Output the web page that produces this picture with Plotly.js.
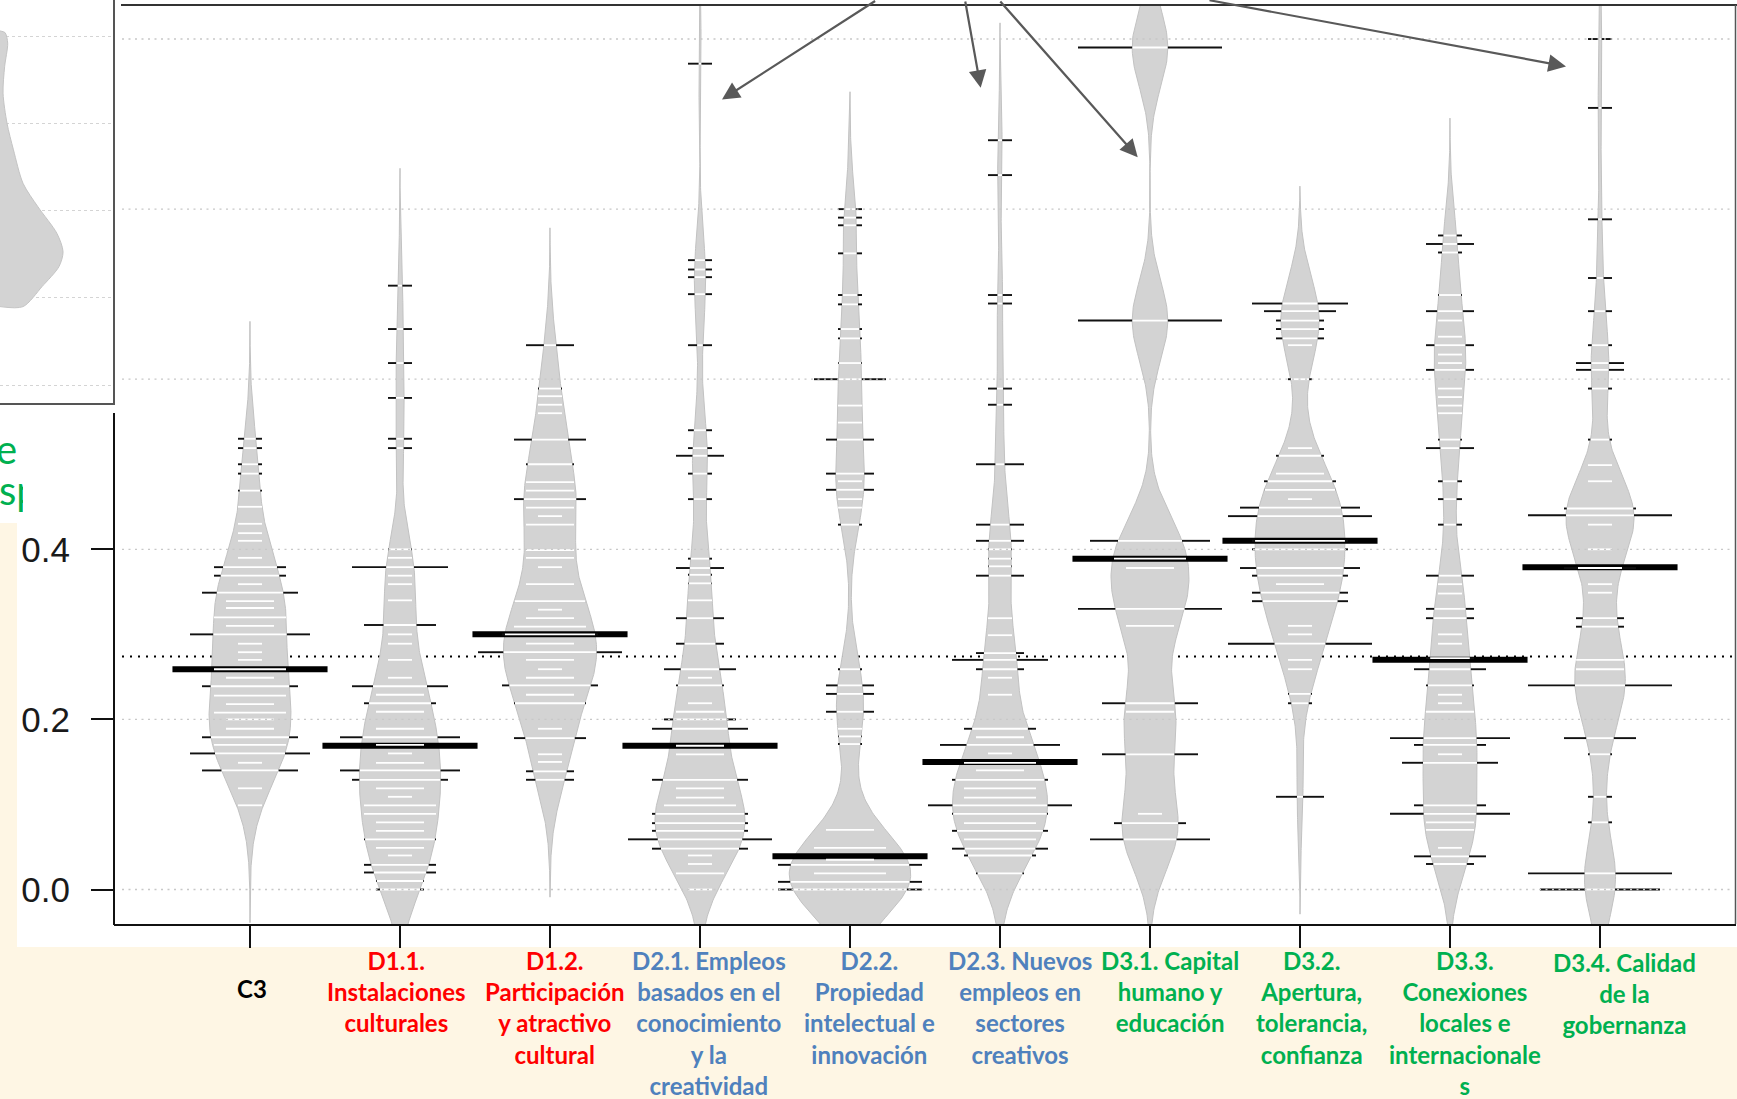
<!DOCTYPE html>
<html>
<head>
<meta charset="utf-8">
<script src="https://cdn.plot.ly/plotly-3.0.1.min.js"></script>
<style>
html,body{margin:0;padding:0;background:#ffffff;}
#chart{width:1737px;height:1099px;}
</style>
</head>
<body>
<div id="chart"></div>
<script>
// ---------------- DATA ----------------
const categories = ['C3','D1.1','D1.2','D2.1','D2.2','D2.3','D3.1','D3.2','D3.3','D3.4'];
const categoryLabels = [
  'C3',
  'D1.1.<br>Instalaciones<br>culturales',
  'D1.2.<br>Participación<br>y atractivo<br>cultural',
  'D2.1. Empleos<br>basados en el<br>conocimiento<br>y la<br>creatividad',
  'D2.2.<br>Propiedad<br>intelectual e<br>innovación',
  'D2.3. Nuevos<br>empleos en<br>sectores<br>creativos',
  'D3.1. Capital<br>humano y<br>educación',
  'D3.2.<br>Apertura,<br>tolerancia,<br>confianza',
  'D3.3.<br>Conexiones<br>locales e<br>internacionale<br>s',
  'D3.4. Calidad<br>de la<br>gobernanza'
];
const labelGroupColor = ['#000000','#FF0000','#FF0000','#4F81BD','#4F81BD','#4F81BD','#00B050','#00B050','#00B050','#00B050'];

// each horizontal bean line: value and number of observations at that value
const c3Values  = [0.530,0.519,0.500,0.489,0.469,0.450,0.430,0.419,0.410,0.390,0.379,0.369,0.359,0.349,0.339,0.331,0.320,0.310,0.300,0.289,0.279,0.270,0.259,0.249,0.239,0.228,0.218,0.208,0.200,0.189,0.179,0.170,0.160,0.149,0.140,0.119,0.099];
const c3Counts  = [1,1,1,1,1,1,1,1,1,1,3,3,1,4,2,2,3,2,5,1,1,1,3,2,4,3,2,3,2,2,4,3,5,1,4,1,1];

const d11Values = [0.710,0.659,0.619,0.578,0.530,0.519,0.400,0.390,0.379,0.369,0.359,0.340,0.311,0.300,0.289,0.270,0.249,0.239,0.229,0.219,0.209,0.189,0.179,0.170,0.160,0.149,0.140,0.129,0.119,0.109,0.099,0.089,0.079,0.069,0.059,0.049,0.040,0.029,0.020,0.010,0.000];
const d11Counts = [1,1,1,1,1,1,1,1,4,1,1,1,3,1,1,1,1,4,2,3,2,2,5,2,1,2,5,4,2,1,3,3,2,2,3,2,1,3,3,2,2];

const d12Values = [0.640,0.589,0.580,0.570,0.560,0.529,0.500,0.479,0.469,0.459,0.449,0.439,0.429,0.399,0.390,0.379,0.359,0.339,0.329,0.319,0.309,0.300,0.289,0.279,0.270,0.259,0.249,0.240,0.229,0.219,0.189,0.178,0.159,0.150,0.139,0.129];
const d12Counts = [2,1,1,1,1,3,2,2,2,3,2,1,2,2,2,1,2,3,1,2,3,4,2,6,2,1,2,4,2,3,1,3,1,1,2,2];

const d21Values = [0.971,0.740,0.729,0.720,0.700,0.640,0.540,0.519,0.510,0.489,0.459,0.389,0.378,0.370,0.360,0.340,0.319,0.289,0.259,0.249,0.240,0.219,0.209,0.200,0.189,0.169,0.159,0.129,0.119,0.108,0.099,0.089,0.078,0.069,0.059,0.048,0.040,0.030,0.019,0.000];
const d21Counts = [1,1,1,1,1,1,1,1,2,1,1,1,2,1,1,1,2,2,3,1,2,1,2,3,4,2,2,4,2,2,3,4,4,4,6,4,1,1,2,1];

const d22Values = [0.800,0.790,0.781,0.748,0.699,0.688,0.659,0.648,0.619,0.600,0.569,0.549,0.529,0.489,0.480,0.470,0.459,0.449,0.429,0.259,0.240,0.230,0.209,0.189,0.180,0.171,0.070,0.049,0.035,0.029,0.019,0.009,0.000];
const d22Counts = [1,1,1,1,1,1,1,1,1,3,1,1,2,2,1,2,1,1,1,1,2,2,2,1,1,1,2,3,2,10,3,10,11];

const d23Values = [0.881,0.840,0.699,0.689,0.589,0.570,0.500,0.429,0.410,0.400,0.389,0.380,0.369,0.319,0.299,0.278,0.270,0.259,0.249,0.229,0.189,0.179,0.170,0.160,0.149,0.140,0.129,0.119,0.108,0.099,0.089,0.078,0.069,0.059,0.048,0.040,0.019];
const d23Counts = [1,1,1,1,1,1,2,2,2,1,1,1,2,1,1,2,4,2,1,1,3,2,5,1,3,2,4,3,3,6,4,3,4,3,4,3,2];

const d31Values = [0.990,0.669,0.410,0.389,0.378,0.330,0.310,0.219,0.209,0.159,0.089,0.078,0.059];
const d31Counts = [6,6,5,3,2,6,2,4,2,4,1,3,5];

const d32Values = [0.689,0.680,0.669,0.659,0.648,0.640,0.600,0.519,0.510,0.489,0.480,0.470,0.459,0.449,0.439,0.410,0.400,0.378,0.369,0.359,0.349,0.339,0.310,0.300,0.289,0.270,0.259,0.230,0.219,0.109];
const d32Counts = [4,3,2,2,2,1,1,1,2,2,3,3,1,5,7,4,4,5,4,2,4,4,1,1,7,1,1,1,1,2];

const d33Values = [0.769,0.759,0.749,0.699,0.680,0.669,0.650,0.640,0.629,0.619,0.611,0.589,0.579,0.569,0.560,0.529,0.519,0.480,0.459,0.429,0.369,0.359,0.348,0.330,0.319,0.300,0.289,0.272,0.259,0.240,0.229,0.219,0.209,0.178,0.170,0.159,0.149,0.099,0.089,0.079,0.070,0.049,0.039,0.030];
const d33Counts = [1,2,1,1,2,1,1,2,1,1,2,1,1,1,1,1,2,1,1,1,2,1,1,2,2,1,1,2,3,2,1,1,2,5,3,1,4,3,5,2,2,1,3,2];

const d34Values = [1.000,0.919,0.788,0.719,0.680,0.640,0.619,0.611,0.589,0.529,0.499,0.480,0.448,0.440,0.429,0.400,0.378,0.359,0.349,0.319,0.309,0.270,0.259,0.240,0.178,0.159,0.109,0.079,0.019,0.000];
const d34Counts = [1,1,1,1,1,1,2,2,1,1,1,1,3,17,1,1,3,1,1,2,2,2,2,12,3,1,1,1,6,5];

const groupMeans = [0.259,0.169,0.300,0.169,0.039,0.150,0.389,0.410,0.270,0.379];
const overallMean = 0.274;
// widest half-width of each bean (in category units)
const beanPeakWidth = [0.273,0.271,0.311,0.300,0.405,0.317,0.260,0.300,0.180,0.227];

const yTickValues = [0, 0.2, 0.4];
const gridValues = [0, 0.2, 0.4, 0.6, 0.8, 1.0];

// cropped bean from another chart in the top-left inset
const insetLevels = [1.013,1.009,0.985,0.931,0.870,0.801,0.740,0.663,0.609,0.548,0.506,0.472,0.426,0.380,0.380];
const insetEdges  = [0.000,0.045,0.068,0.041,0.027,0.062,0.119,0.204,0.336,0.504,0.558,0.522,0.372,0.204,0.000];
const insetGrid = [0.2,0.4,0.6,0.8,1.0];

// ---------------- DRAWING ----------------
const W = 1737, H = 1099;
const PX = px => px / W;
const PY = py => 1 - py / H;

const groups = [
  [c3Values,c3Counts],[d11Values,d11Counts],[d12Values,d12Counts],[d21Values,d21Counts],
  [d22Values,d22Counts],[d23Values,d23Counts],[d31Values,d31Counts],[d32Values,d32Counts],
  [d33Values,d33Counts],[d34Values,d34Counts]
];

const BW = 0.046, CUT = 3, LL = 0.16, MAXLINE = 0.96, MEANHALF = 0.517;

const traces = [];

// inset bean
traces.push({
  type:'scatter', mode:'lines', xaxis:'x2', yaxis:'y2',
  x: insetEdges, y: insetLevels, fill:'toself', fillcolor:'#d3d3d3',
  line:{color:'#c4c4c4', width:1, shape:'spline', smoothing:0.8},
  hoverinfo:'skip', showlegend:false
});

const meanX = [], meanY = [];
const whiteX = [], whiteY = [];
const blackX = [], blackY = [];

groups.forEach(([vals, cnts], i) => {
  const dens = y => {
    let s = 0;
    for (let j = 0; j < vals.length; j++) {
      const z = (y - vals[j]) / BW;
      s += cnts[j] * Math.exp(-0.5 * z * z);
    }
    return s;
  };
  const lo = Math.min(...vals) - CUT * BW;
  const hi = Math.max(...vals) + CUT * BW;
  const n = 400;
  const ys = [], ds = [];
  for (let k = 0; k <= n; k++) {
    const y = lo + (hi - lo) * k / n;
    ys.push(y); ds.push(dens(y));
  }
  const peak = Math.max(...ds);
  const scale = beanPeakWidth[i] / peak;
  const bx = [], by = [];
  for (let k = 0; k <= n; k++) { bx.push(i + ds[k] * scale); by.push(ys[k]); }
  for (let k = n; k >= 0; k--) { bx.push(i - ds[k] * scale); by.push(ys[k]); }
  traces.push({
    type:'scatter', mode:'lines', x:bx, y:by, fill:'toself', fillcolor:'#d3d3d3',
    line:{color:'#c2c2c2', width:1}, hoverinfo:'skip', showlegend:false
  });

  meanX.push(i - MEANHALF, i + MEANHALF, null);
  meanY.push(groupMeans[i], groupMeans[i], null);

  vals.forEach((v, j) => {
    const h = Math.min(cnts[j] * LL, MAXLINE) / 2;
    const w = dens(v) * scale;
    const inner = Math.min(h, w);
    whiteX.push(i - inner, i + inner, null);
    whiteY.push(v, v, null);
    if (h > w) {
      blackX.push(i - h, i - w, null, i + w, i + h, null);
      blackY.push(v, v, null, v, v, null);
    }
  });
});

traces.push({type:'scatter', mode:'lines', x:meanX, y:meanY, line:{color:'#000000', width:6}, hoverinfo:'skip', showlegend:false});
traces.push({type:'scatter', mode:'lines', x:whiteX, y:whiteY, line:{color:'#ffffff', width:1.8}, hoverinfo:'skip', showlegend:false});
traces.push({type:'scatter', mode:'lines', x:blackX, y:blackY, line:{color:'#111111', width:1.9}, hoverinfo:'skip', showlegend:false});

// ----- shapes -----
const shapes = [];
const cream = '#FEF6E4';
shapes.push({type:'rect', xref:'paper', yref:'paper', x0:-0.01, x1:1.01, y0:-0.01, y1:PY(947), fillcolor:cream, line:{width:0}, layer:'below'});
shapes.push({type:'rect', xref:'paper', yref:'paper', x0:-0.01, x1:PX(17), y0:PY(947), y1:PY(523), fillcolor:cream, line:{width:0}, layer:'below'});
// overall mean (dotted, under the beans)
shapes.push({type:'line', xref:'paper', yref:'y', x0:PX(122), x1:PX(1734), y0:overallMean, y1:overallMean,
  line:{color:'#000000', width:2, dash:'2px,6px'}, layer:'below'});
// grid lines drawn over everything
gridValues.forEach(g => shapes.push({type:'line', xref:'paper', yref:'y', x0:PX(122), x1:PX(1734), y0:g, y1:g,
  line:{color:'#c8c8c8', width:1.3, dash:'2px,4.5px'}, layer:'above'}));
// frame pieces
shapes.push({type:'line', xref:'paper', yref:'paper', x0:PX(121), x1:PX(1737), y0:PY(5), y1:PY(5), line:{color:'#333333', width:2}});
shapes.push({type:'line', xref:'paper', yref:'paper', x0:PX(1735.5), x1:PX(1735.5), y0:PY(924), y1:PY(5), line:{color:'#555555', width:1.5}});
shapes.push({type:'line', xref:'paper', yref:'paper', x0:PX(114), x1:PX(114), y0:PY(925), y1:PY(413), line:{color:'#111111', width:2}});

// ----- annotations -----
const annotations = [];
const labelShiftPx = [2,-4,5,9,19,20,20,11,15,24];
const labelTopPy   = [972,944,944,944,944,944,944,944,944,946];
categoryLabels.forEach((t, i) => {
  annotations.push({
    xref:'x', yref:'paper', x: i + labelShiftPx[i] / 150, y: PY(labelTopPy[i]),
    xanchor:'center', yanchor:'top', align:'center', showarrow:false, text:t,
    font:{family:'Lato', size:24, color:labelGroupColor[i], weight:700}
  });
});
// arrows coming from above the picture (tails on the top edge)
const arrowHeads = [[722,99.5],[980.7,87.8],[1137.7,157.2],[1566,66.4]];
const arrowTails = [[876.6,0],[965,0],[999,0],[1208,0]];
arrowHeads.forEach((h, k) => {
  annotations.push({
    xref:'paper', yref:'paper', x:PX(h[0]), y:PY(h[1]), text:'', showarrow:true,
    ax: arrowTails[k][0] - h[0], ay: arrowTails[k][1] - h[1],
    arrowhead:2, arrowsize:1.6, arrowwidth:2.2, arrowcolor:'#595959', standoff:0, startstandoff:0
  });
});
// fragments of green text cut by the chart picture
annotations.push({xref:'paper', yref:'paper', x:PX(19), y:PY(449), xanchor:'right', yanchor:'middle', showarrow:false,
  text:'e', font:{family:'Lato', size:40, color:'#00B050'}});
annotations.push({xref:'paper', yref:'paper', x:PX(-3), y:PY(490), xanchor:'left', yanchor:'middle', showarrow:false,
  text:'sp', width:24, align:'left', font:{family:'Lato', size:40, color:'#00B050'}});

const layout = {
  width: W, height: H,
  margin:{l:0, r:0, t:0, b:0, pad:0},
  paper_bgcolor:'#ffffff', plot_bgcolor:'#ffffff',
  showlegend:false, hovermode:false,
  xaxis:{
    domain:[PX(114), PX(1736)], range:[-0.90667, 9.90667],
    tickvals: categories.map((c, i) => i), ticktext: categories, showticklabels:false,
    ticks:'outside', ticklen:22, tickwidth:2, tickcolor:'#111111',
    showline:true, linecolor:'#111111', linewidth:2,
    showgrid:false, zeroline:false, fixedrange:true
  },
  yaxis:{
    domain:[PY(924), PY(5)], range:[-0.04056, 1.04],
    tickvals: yTickValues, ticktext: yTickValues.map(v => v.toFixed(1)),
    ticks:'outside', ticklen:22, tickwidth:2, tickcolor:'#111111',
    tickfont:{family:'Liberation Sans', size:35, color:'#1a1a1a'},
    ticklabelstandoff:14,
    showline:false, showgrid:false, zeroline:false, fixedrange:true
  },
  xaxis2:{
    domain:[0, PX(113)], range:[0,1], anchor:'y2',
    showline:true, linecolor:'#555555', linewidth:1.5,
    showticklabels:false, ticks:'', showgrid:false, zeroline:false, fixedrange:true
  },
  yaxis2:{
    domain:[PY(403), 1], range:[0.1587, 1.084], anchor:'x2', side:'right',
    showline:true, linecolor:'#555555', linewidth:1.5,
    showticklabels:false, ticks:'', tickvals: insetGrid,
    showgrid:true, gridcolor:'#d4d4d4', griddash:'dot', gridwidth:1, zeroline:false, fixedrange:true
  },
  shapes: shapes,
  annotations: annotations
};

Plotly.newPlot('chart', traces, layout, {staticPlot:true, displayModeBar:false});
</script>
</body>
</html>
